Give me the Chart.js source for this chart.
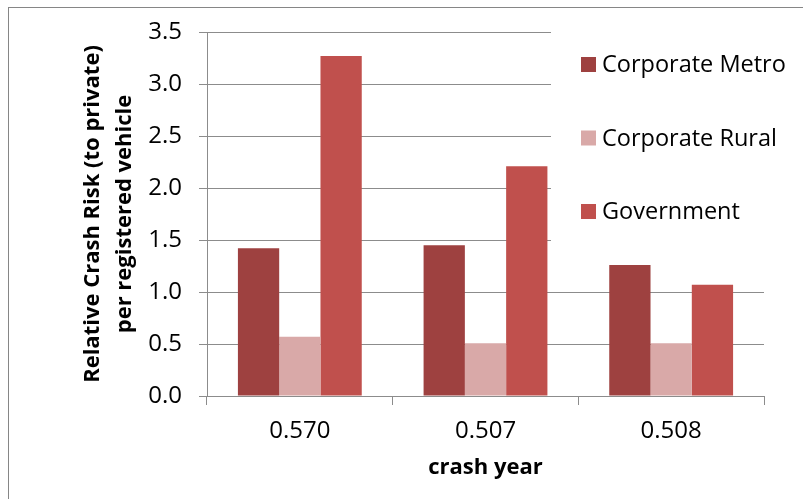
<!DOCTYPE html>
<html>
<head>
<meta charset="utf-8">
<title>Relative Crash Risk</title>
<script src="https://cdn.jsdelivr.net/npm/chart.js@4.4.1/dist/chart.umd.min.js"></script>
<style>
    html, body { margin: 0; padding: 0; background: #fff; }
    #wrap { position: relative; width: 803px; height: 499px; }
</style>
</head>
<body>
<div id="wrap"><canvas id="crashChart"></canvas></div>
<script>
    // ===== DATA =====
    const categories = ['0.570', '0.507', '0.508'];
    const seriesNames = ['Corporate Metro', 'Corporate Rural', 'Government'];
    const corporateMetro = [1.42, 1.45, 1.26];
    const corporateRural = [0.57, 0.507, 0.508];
    const government = [3.27, 2.21, 1.07];
    const yTicks = [0, 0.5, 1.0, 1.5, 2.0, 2.5, 3.0, 3.5];

    const colors = ['#9e4140', '#d9a9a8', '#c0504d'];
    const gridColor = '#8c8c8c';
    const fontFamily = '"Open Sans", "Liberation Sans", sans-serif';

    // ===== PLUGINS =====
    // white page + outer frame
    const frame = {
        id: 'frame',
        beforeDraw(chart) {
            const ctx = chart.ctx;
            ctx.save();
            ctx.fillStyle = '#fff';
            ctx.fillRect(0, 0, chart.width, chart.height);
            ctx.strokeStyle = '#868686';
            ctx.lineWidth = 1;
            ctx.strokeRect(8.5, 7.5, chart.width + 20, chart.height + 20);
            ctx.restore();
        }
    };

    // legend box sitting over the upper right of the plot
    const sideLegend = {
        id: 'sideLegend',
        afterDraw(chart) {
            const ctx = chart.ctx;
            const boxLeft = 551, boxTop = 20, boxBottom = 262;
            ctx.save();
            ctx.fillStyle = '#fff';
            ctx.fillRect(boxLeft, boxTop, chart.width - boxLeft, boxBottom - boxTop);
            ctx.font = '23.5px ' + fontFamily;
            ctx.textBaseline = 'middle';
            chart.data.datasets.forEach((ds, i) => {
                const cy = 64.5 + i * 73.5;
                ctx.fillStyle = ds.backgroundColor;
                ctx.fillRect(581, cy - 7.5, 15, 15);
                ctx.fillStyle = '#000';
                ctx.fillText(ds.label, 602, cy + 1);
            });
            ctx.restore();
        }
    };

    // ===== CHART =====
    new Chart(document.getElementById('crashChart'), {
        type: 'bar',
        data: {
            labels: categories,
            datasets: [
                { label: seriesNames[0], data: corporateMetro, backgroundColor: colors[0] },
                { label: seriesNames[1], data: corporateRural, backgroundColor: colors[1] },
                { label: seriesNames[2], data: government, backgroundColor: colors[2] }
            ]
        },
        options: {
            responsive: true,
            maintainAspectRatio: false,
            animation: false,
            datasets: {
                bar: {
                    categoryPercentage: 0.667,
                    barPercentage: 1.0,
                    borderWidth: 0
                }
            },
            layout: {
                padding: { left: 0, top: 32, right: 39, bottom: 0 }
            },
            plugins: {
                legend: { display: false },
                tooltip: { enabled: false }
            },
            scales: {
                x: {
                    afterFit: function(scale) { scale.height = 103; },
                    grid: {
                        offset: true,
                        drawOnChartArea: false,
                        drawTicks: true,
                        tickLength: 9,
                        color: gridColor
                    },
                    border: { display: true, color: gridColor },
                    ticks: {
                        color: '#000',
                        padding: 12,
                        font: { family: fontFamily, size: 24 }
                    },
                    title: {
                        display: true,
                        text: 'crash year',
                        color: '#000',
                        padding: { top: 0, bottom: 16 },
                        font: { family: fontFamily, size: 22, weight: 'bold', lineHeight: 1.35 }
                    }
                },
                y: {
                    min: 0,
                    max: 3.5,
                    afterFit: function(scale) { scale.width = 207; },
                    afterBuildTicks: function(scale) {
                        scale.ticks = yTicks.map(v => ({ value: v }));
                    },
                    grid: {
                        drawTicks: true,
                        tickLength: 8,
                        color: gridColor
                    },
                    border: { display: true, color: gridColor },
                    ticks: {
                        color: '#000',
                        padding: 17,
                        font: { family: fontFamily, size: 24 },
                        callback: function(value) { return Number(value).toFixed(1); }
                    },
                    title: {
                        display: true,
                        text: ['Relative Crash Risk (to private)', 'per registered vehicle'],
                        color: '#000',
                        padding: { top: 77, bottom: 0 },
                        font: { family: fontFamily, size: 22, weight: 'bold', lineHeight: 1.45 }
                    }
                }
            }
        },
        plugins: [frame, sideLegend]
    });
</script>
</body>
</html>
